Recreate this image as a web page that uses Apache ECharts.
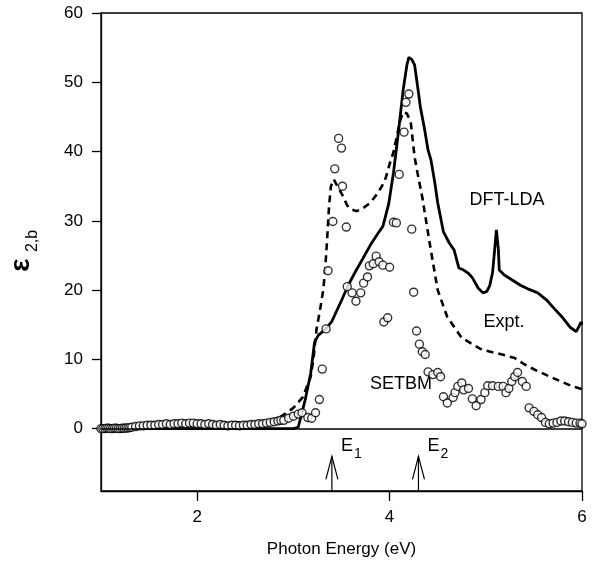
<!DOCTYPE html>
<html>
<head>
<meta charset="utf-8">
<script src="https://cdn.jsdelivr.net/npm/echarts@6/dist/echarts.min.js"></script>
<style>
  html, body { margin: 0; background: #fff; }
  #chart { width: 593px; height: 570px; }
</style>
</head>
<body>
<div id="chart"></div>
<script>
// 能量刻度与纵轴刻度
const xTicks = [2, 4, 6];
const yTicks = [0, 10, 20, 30, 40, 50, 60];

// DFT-LDA (实线)
const dftLda = [
  [1.0, 0], [3.0, 0], [3.05, 0.2], [3.12, 4], [3.18, 8], [3.22, 12.5], [3.26, 13.5],
  [3.33, 14.3], [3.4, 15.5], [3.5, 18.5], [3.57, 20.7], [3.65, 22.8], [3.72, 24.5],
  [3.8, 26.5], [3.88, 28.2], [3.93, 29.2], [3.99, 32.4], [4.04, 36.9], [4.09, 42.6],
  [4.14, 48.8], [4.18, 52.5], [4.2, 53.6], [4.23, 53.3], [4.26, 52.5], [4.3, 48.5],
  [4.32, 46.4], [4.36, 43.5], [4.4, 40.2], [4.43, 38.8], [4.47, 35.5], [4.5, 32.6],
  [4.56, 28.4], [4.62, 26.8], [4.67, 25.8], [4.72, 23.2], [4.77, 22.9], [4.82, 22.4],
  [4.86, 21.8], [4.92, 20.3], [4.97, 19.6], [5.01, 19.8], [5.04, 20.6], [5.07, 22.5],
  [5.09, 25.5], [5.11, 28.7], [5.13, 26.0], [5.14, 22.9], [5.19, 22.2], [5.27, 21.5],
  [5.36, 20.7], [5.45, 20.1], [5.54, 19.6], [5.63, 18.6], [5.7, 17.5], [5.8, 16.0],
  [5.88, 14.6], [5.94, 14.0], [5.97, 14.8], [5.99, 15.4], [6.0, 15.0]
];

// Expt. (虚线)
const expt = [
  [1.0, 0.1], [1.2, 0.2], [1.4, 0.4], [1.6, 0.6], [1.8, 0.7], [2.0, 0.7], [2.2, 0.8],
  [2.4, 0.9], [2.6, 0.9], [2.75, 1.1], [2.83, 1.4], [2.92, 2.2], [3.0, 3.0], [3.1, 4.6],
  [3.18, 7.5], [3.21, 10.2], [3.24, 14.3], [3.28, 17.4], [3.31, 20.0], [3.33, 22.9],
  [3.35, 27.2], [3.37, 32.0], [3.39, 35.0], [3.42, 36.0], [3.45, 35.2], [3.51, 33.7],
  [3.56, 32.2], [3.61, 31.6], [3.66, 31.4], [3.72, 31.8], [3.8, 32.6], [3.86, 33.7],
  [3.92, 35.0], [3.96, 36.2], [4.0, 38.2], [4.04, 39.9], [4.08, 42.5], [4.11, 44.5],
  [4.14, 45.7], [4.18, 45.5], [4.22, 44.2], [4.26, 39.2], [4.29, 36.9], [4.34, 33.4],
  [4.37, 30.8], [4.42, 26.5], [4.5, 20.0], [4.6, 16.1], [4.75, 13.1], [4.96, 11.4],
  [5.17, 10.7], [5.3, 10.2], [5.4, 9.3], [5.51, 8.5], [5.7, 7.3], [5.9, 6.1], [6.0, 5.7]
];

// SETBM (空心圆)
const setbm = [
  [1.00, 0.0], [1.02, 0.0], [1.04, 0.0], [1.06, 0.05], [1.08, 0.05], [1.10, 0.0],
  [1.12, 0.0], [1.14, 0.05], [1.16, 0.05], [1.18, 0.0], [1.20, 0.0], [1.22, 0.05],
  [1.24, 0.05], [1.26, 0.1], [1.28, 0.1], [1.30, 0.15], [1.32, 0.2], [1.36, 0.3],
  [1.40, 0.4], [1.44, 0.4],
  [1.48, 0.5], [1.52, 0.5], [1.56, 0.5], [1.60, 0.6], [1.64, 0.6], [1.68, 0.7],
  [1.72, 0.6], [1.76, 0.7], [1.80, 0.7], [1.84, 0.8], [1.88, 0.7], [1.92, 0.8],
  [1.96, 0.8], [2.00, 0.7], [2.04, 0.7], [2.08, 0.6], [2.12, 0.7], [2.16, 0.6],
  [2.20, 0.5], [2.24, 0.6], [2.28, 0.5], [2.32, 0.4], [2.36, 0.5], [2.40, 0.5],
  [2.44, 0.4], [2.48, 0.5], [2.52, 0.5], [2.56, 0.6], [2.60, 0.6], [2.64, 0.7],
  [2.68, 0.7], [2.72, 0.8], [2.76, 0.9], [2.80, 1.0], [2.84, 1.1], [2.87, 1.2],
  [2.90, 1.2], [2.95, 1.5], [3.00, 1.8], [3.05, 2.1], [3.09, 2.3], [3.15, 1.6],
  [3.19, 1.5], [3.23, 2.3], [3.27, 4.2], [3.30, 8.6], [3.34, 14.4], [3.36, 22.8],
  [3.41, 29.9], [3.43, 37.5], [3.47, 41.9], [3.50, 40.5], [3.51, 35.0], [3.55, 29.1],
  [3.56, 20.5], [3.61, 19.6], [3.65, 18.4], [3.70, 19.6], [3.73, 21.0], [3.77, 21.9],
  [3.79, 23.5], [3.83, 23.8], [3.86, 24.9], [3.89, 24.1], [3.93, 23.6], [3.94, 15.4],
  [3.98, 16.0], [4.00, 23.3], [4.04, 29.8], [4.07, 29.7], [4.10, 36.7], [4.15, 42.8],
  [4.17, 47.1], [4.20, 48.3], [4.23, 28.8], [4.25, 19.7], [4.28, 14.1], [4.31, 12.2],
  [4.34, 11.1], [4.37, 10.7], [4.40, 8.2], [4.45, 7.8], [4.50, 8.1], [4.53, 7.5],
  [4.56, 4.6], [4.60, 3.7], [4.66, 4.5], [4.68, 5.2], [4.71, 6.1], [4.75, 6.6],
  [4.77, 5.6], [4.82, 5.8], [4.86, 4.3], [4.90, 3.3], [4.95, 4.2], [4.99, 5.2],
  [5.02, 6.2], [5.07, 6.2], [5.13, 6.1], [5.18, 6.1], [5.21, 5.2], [5.24, 5.8],
  [5.27, 6.8], [5.30, 7.5], [5.33, 8.1], [5.38, 6.8], [5.42, 6.1], [5.45, 3.0],
  [5.50, 2.5], [5.54, 2.0], [5.58, 1.6], [5.62, 0.9], [5.66, 0.7], [5.70, 0.8],
  [5.74, 0.9], [5.78, 1.1], [5.82, 1.1], [5.86, 1.0], [5.90, 0.9], [5.94, 0.8],
  [5.98, 0.8], [6.00, 0.7]
];

// 跃迁能 E1, E2 的箭头
const arrowEnergy = [3.4, 4.3];
const arrowName = ['1', '2'];
const arrowBase = -9;
const arrowTip = -4;

const FONT = '"Liberation Sans", Arial, sans-serif';

const chart = echarts.init(document.getElementById('chart'));

const option = {
  animation: false,
  grid: {
    left: 101, right: 11, top: 13, bottom: 79,
    show: true, borderColor: '#000', borderWidth: 1.3
  },
  xAxis: {
    type: 'value', min: 1, max: 6,
    name: 'Photon Energy (eV)', nameLocation: 'middle', nameGap: 50,
    nameTextStyle: { fontFamily: FONT, fontSize: 17, color: '#000' },
    axisLine: { onZero: false, lineStyle: { color: '#000', width: 1.3 } },
    axisTick: { customValues: xTicks, length: 10, lineStyle: { color: '#000', width: 1.3 } },
    axisLabel: { customValues: xTicks, margin: 18, fontFamily: FONT, fontSize: 17, color: '#000' },
    splitLine: { show: false }
  },
  yAxis: {
    type: 'value', min: arrowBase, max: 60,
    axisLine: { show: true, lineStyle: { color: '#000', width: 1.3 } },
    axisTick: { customValues: yTicks, length: 9, lineStyle: { color: '#000', width: 1.3 } },
    axisLabel: { customValues: yTicks, margin: 18, fontFamily: FONT, fontSize: 17, color: '#000' },
    splitLine: { show: false }
  },
  graphic: [
    { type: 'text', x: 21, y: 265, rotation: Math.PI / 2,
      style: { text: 'ε', font: 'bold 28px ' + FONT, fill: '#000', align: 'center', verticalAlign: 'middle' } },
    { type: 'text', x: 33, y: 241, rotation: Math.PI / 2,
      style: { text: '2,b', font: '16px ' + FONT, fill: '#000', align: 'center', verticalAlign: 'middle' } },
    { type: 'text', x: 507, y: 200,
      style: { text: 'DFT-LDA', font: '18px ' + FONT, fill: '#000', align: 'center', verticalAlign: 'middle' } },
    { type: 'text', x: 504, y: 322,
      style: { text: 'Expt.', font: '18px ' + FONT, fill: '#000', align: 'center', verticalAlign: 'middle' } },
    { type: 'text', x: 401, y: 384,
      style: { text: 'SETBM', font: '18px ' + FONT, fill: '#000', align: 'center', verticalAlign: 'middle' } }
  ],
  series: [
    {
      name: 'DFT-LDA', type: 'line', data: dftLda, showSymbol: false,
      lineStyle: { color: '#000', width: 2.8 },
      markLine: {
        silent: true, symbol: 'none', label: { show: false },
        lineStyle: { color: '#000', width: 1.6, type: 'solid' },
        data: [{ yAxis: 0 }]
      },
      z: 3
    },
    {
      name: 'Expt.', type: 'line', data: expt, showSymbol: false,
      lineStyle: { color: '#000', width: 2.6, type: [7, 5] },
      z: 3
    },
    {
      name: 'SETBM', type: 'scatter', data: setbm,
      symbol: 'circle', symbolSize: 8,
      itemStyle: { color: '#fff', borderColor: '#000', borderWidth: 1.4 },
      z: 4
    },
    {
      name: 'arrows', type: 'custom',
      data: arrowEnergy.map((e, i) => [e, i]),
      renderItem: (params, api) => {
        const base = api.coord([api.value(0), arrowBase]);
        const tip = api.coord([api.value(0), arrowTip]);
        const idx = api.value(1);
        return {
          type: 'group',
          children: [
            { type: 'line', shape: { x1: base[0], y1: base[1], x2: tip[0], y2: tip[1] },
              style: { stroke: '#000', lineWidth: 1.2 } },
            { type: 'polyline',
              shape: { points: [[tip[0] - 6, tip[1] + 23], [tip[0], tip[1]], [tip[0] + 6, tip[1] + 23]] },
              style: { stroke: '#000', fill: null, lineWidth: 1.2 } },
            { type: 'text', x: tip[0] + 9, y: tip[1] - 1,
              style: { text: 'E', font: '18px ' + FONT, fill: '#000', align: 'left', verticalAlign: 'bottom' } },
            { type: 'text', x: tip[0] + 22, y: tip[1] + 5,
              style: { text: arrowName[idx], font: '14px ' + FONT, fill: '#000', align: 'left', verticalAlign: 'bottom' } }
          ]
        };
      },
      z: 5
    }
  ]
};

chart.setOption(option);
</script>
</body>
</html>
